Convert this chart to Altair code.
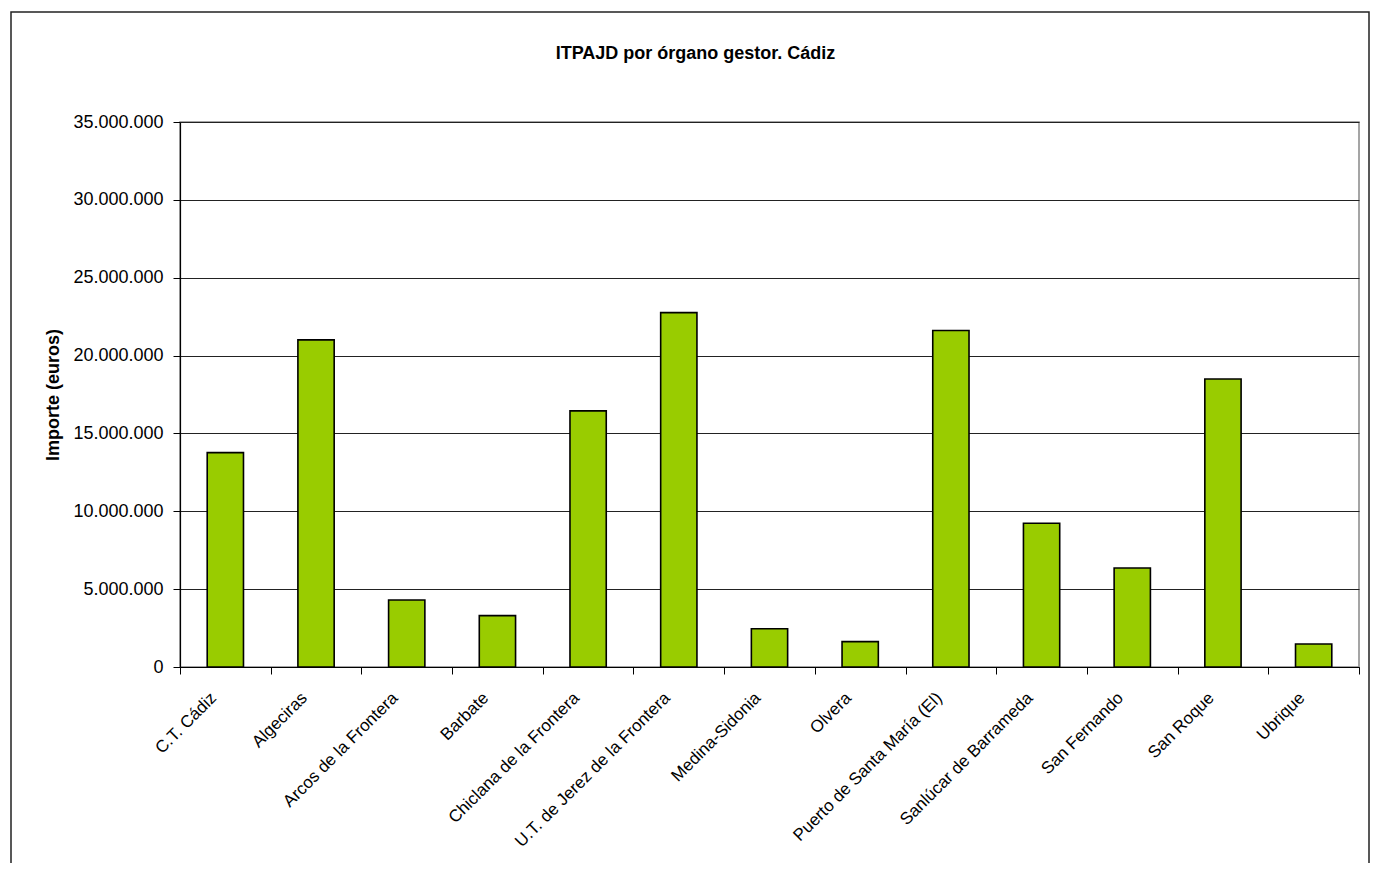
import altair as alt
import pandas as pd

organos = [
    "C.T. Cádiz", "Algeciras", "Arcos de la Frontera", "Barbate",
    "Chiclana de la Frontera", "U.T. de Jerez de la Frontera", "Medina-Sidonia",
    "Olvera", "Puerto de Santa María (El)", "Sanlúcar de Barrameda",
    "San Fernando", "San Roque", "Ubrique",
]
importes = [
    13770000, 21010000, 4300000, 3300000,
    16450000, 22760000, 2460000,
    1630000, 21610000, 9230000,
    6360000, 18500000, 1480000,
]
y_ticks = [0, 5000000, 10000000, 15000000, 20000000, 25000000, 30000000, 35000000]

titulo = "ITPAJD por órgano gestor. Cádiz"
titulo_y = "Importe (euros)"

df = pd.DataFrame({"organo": organos, "importe": importes})
FONT = "Liberation Sans"

bars = alt.Chart(df).mark_bar(
    color="#99CC00", stroke="black", strokeWidth=1.6,
    width=alt.RelativeBandSize(0.4),
).encode(
    x=alt.X(
        "organo:N", sort=organos, title=None,
        scale=alt.Scale(paddingInner=0, paddingOuter=0),
        axis=alt.Axis(
            labelAngle=-45, labelAlign="right", labelBaseline="middle",
            labelPadding=21, labelOffset=-12, labelLimit=500,
            labelFont=FONT, labelFontSize=17, labelColor="black",
            tickBand="extent", tickSize=7, tickColor="black",
            domainColor="black", domainWidth=1.2, grid=False,
        ),
    ),
    y=alt.Y(
        "importe:Q", title=titulo_y,
        scale=alt.Scale(domain=[0, 35000000], nice=False),
        axis=alt.Axis(
            values=y_ticks,
            labelExpr="replace(format(datum.value, ',d'), /,/g, '.')",
            labelFont=FONT, labelFontSize=18, labelColor="black", labelPadding=10,
            tickSize=7, tickColor="black", domainColor="black", domainWidth=1.2,
            grid=True, gridColor="#222222", gridWidth=1,
            titleFont=FONT, titleFontSize=18, titleFontWeight="bold", titleColor="black",
            titlePadding=10,
        ),
    ),
)

frame = alt.Chart(pd.DataFrame({"k": [0]})).mark_rect(
    fillOpacity=0, stroke="#222222", strokeWidth=1.5
).encode(
    x=alt.value(-169), x2=alt.value(1189), y=alt.value(-110), y2=alt.value(760)
)

chart = alt.layer(frame, bars).properties(
    width=1179, height=545,
    padding={"left": 172, "top": 114, "right": 12, "bottom": 196},
    autosize=alt.AutoSizeParams(type="none"),
    background="white",
    title=alt.TitleParams(
        titulo, font=FONT, fontSize=18, fontWeight="bold", color="black",
        anchor="middle", frame="group", baseline="bottom", offset=-70, dx=-74,
    ),
).configure_view(stroke="#888888", strokeWidth=1.5)

chart.save("out.html", embed_options={"renderer": "svg", "actions": False})
